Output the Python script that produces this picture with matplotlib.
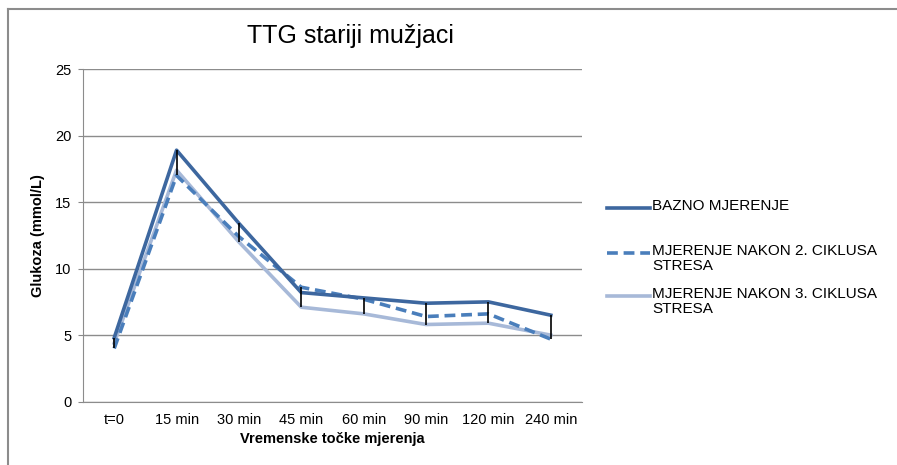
import numpy as np
import matplotlib
matplotlib.use("Agg")
from matplotlib import pyplot as plt
from matplotlib.lines import Line2D

plt.rcParams['font.family'] = ['Liberation Sans', 'DejaVu Sans']

#%% data
times = ["t=0", "15 min", "30 min", "45 min", "60 min", "90 min", "120 min", "240 min"]
bazno = [4.8, 18.9, 13.4, 8.2, 7.8, 7.4, 7.5, 6.5]
nakon2 = [4.0, 17.0, 12.4, 8.6, 7.7, 6.4, 6.6, 4.7]
nakon3 = [4.4, 17.4, 12.0, 7.1, 6.6, 5.8, 5.9, 5.0]
labels = ["BAZNO MJERENJE",
          "MJERENJE NAKON 2. CIKLUSA\nSTRESA",
          "MJERENJE NAKON 3. CIKLUSA\nSTRESA"]

#%%
W, H = 897, 465
fig = plt.figure(figsize=(W / 100, H / 100), dpi=100)
ax = fig.add_axes([83 / W, 1 - 401.7 / H, (582 - 83) / W, (401.7 - 69) / H])

x = np.arange(len(times))
c_dark = '#3D679F'
c_mid = '#4A7EBB'
c_light = '#A7B9D8'

# high-low lines
allv = np.array([bazno, nakon2, nakon3])
ax.vlines(x, allv.min(axis=0), allv.max(axis=0), color='black', lw=1.2, zorder=5)

ax.plot(x, nakon3, color=c_light, lw=2.6, zorder=3)
ax.plot(x, nakon2, color=c_mid, lw=2.6, ls=(0, (3, 1.6)), zorder=3)
ax.plot(x, bazno, color=c_dark, lw=2.6, zorder=4)

ax.set_xlim(-0.5, len(times) - 0.5)
ax.set_ylim(0, 25)
ax.set_yticks(range(0, 26, 5))
ax.set_xticks(x)
ax.set_xticklabels(times, fontsize=10.5)
ax.tick_params(axis='x', length=0, pad=8)
ax.tick_params(axis='y', length=3.5, color='#888888', labelsize=10.5, pad=5)
ax.yaxis.grid(True, color='#8c8c8c', lw=1)
ax.set_axisbelow(True)
for s in ['top', 'right']:
    ax.spines[s].set_visible(False)
for s in ['left', 'bottom']:
    ax.spines[s].set_color('#8c8c8c')

ax.set_ylabel("Glukoza (mmol/L)", fontsize=10.5, fontweight='bold', labelpad=7)
ax.set_xlabel("Vremenske točke mjerenja", fontsize=10.5, fontweight='bold', labelpad=4)
fig.text(350 / W, 1 - 36 / H, "TTG stariji mužjaci", fontsize=18, ha='center', va='center')

# legend, drawn by hand like excel does
leg_y = [208, 253, 296]
styles = [dict(color=c_dark, lw=2.6), dict(color=c_mid, lw=2.6, ls=(0, (3, 1.6))), dict(color=c_light, lw=2.6)]
for yy, lab, st in zip(leg_y, labels, styles):
    fig.add_artist(Line2D([607 / W, 650 / W], [1 - yy / H, 1 - yy / H], **st))
    fig.text(652 / W, 1 - (yy - 9.5) / H, lab, fontsize=11, va='top', linespacing=1.15)

# chart frame
fig.add_artist(Line2D([8 / W, 1], [1 - 9 / H, 1 - 9 / H], color='#8c8c8c', lw=1.5))
fig.add_artist(Line2D([8 / W, 8 / W], [0, 1 - 9 / H], color='#8c8c8c', lw=1.5))

fig.savefig("out.png", dpi=100)
